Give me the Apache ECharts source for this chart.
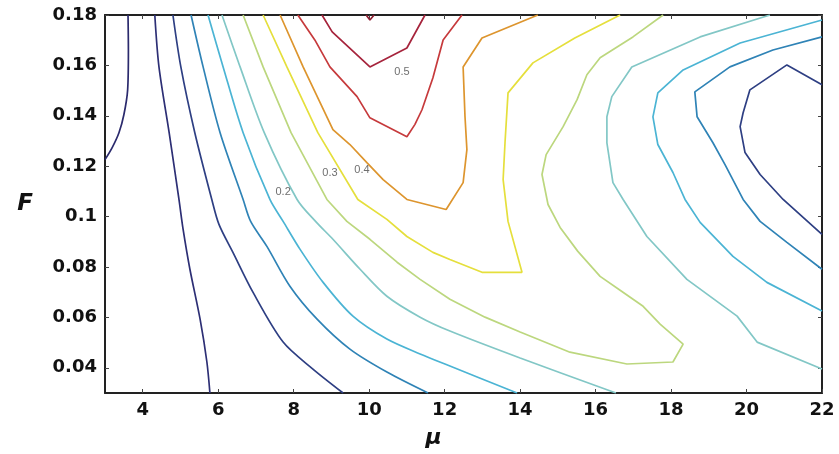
<!DOCTYPE html>
<html>
<head>
<meta charset="utf-8">
<script src="https://cdn.jsdelivr.net/npm/echarts@6/dist/echarts.min.js"></script>
<style>
  html, body { margin: 0; padding: 0; background: #fff; }
  #chart { width: 839px; height: 454px; }
</style>
</head>
<body>
<div id="chart"></div>
<script>
// contour lines, each point is [mu, F]
const c1 = [[3.61,0.18],[3.62,0.1661],[3.60,0.1503],[3.50,0.1404],[3.37,0.1333],[3.19,0.1274],[3.00,0.1226]];
const c2 = [[4.32,0.18],[4.43,0.1594],[4.70,0.1333],[4.96,0.1068],[5.07,0.0949],[5.25,0.0791],[5.52,0.0593],[5.70,0.0423],[5.78,0.03]];
const c3 = [[4.80,0.18],[5.01,0.1594],[5.38,0.1333],[5.83,0.1068],[6.02,0.0969],[6.39,0.0858],[6.92,0.0700],[7.72,0.0502],[8.51,0.0395],[9.31,0.03]];
const c4 = [[5.28,0.18],[5.60,0.1594],[6.05,0.1333],[6.66,0.1068],[6.86,0.0981],[7.29,0.0882],[7.90,0.0724],[8.62,0.0593],[9.49,0.0474],[10.47,0.0383],[11.56,0.03]];
const c5 = [[5.73,0.18],[6.13,0.1594],[6.66,0.1333],[7.37,0.1068],[7.72,0.0981],[8.17,0.0870],[8.78,0.0739],[9.57,0.0605],[10.47,0.0514],[11.35,0.0455],[12.14,0.0407],[13.92,0.03]];
const c6 = [[6.10,0.18],[6.58,0.1594],[7.22,0.1333],[8.09,0.1068],[8.58,0.0981],[9.04,0.0910],[9.76,0.0791],[10.47,0.0684],[11.35,0.0601],[12.14,0.0546],[14.00,0.0439],[16.54,0.03]];
const c7 = [[6.66,0.18],[7.19,0.1594],[7.93,0.1333],[8.88,0.1068],[9.41,0.0981],[10.02,0.0910],[10.74,0.0819],[11.35,0.0751],[12.14,0.0672],[13.07,0.0601],[14.00,0.0542],[15.32,0.0462],[16.83,0.0415],[18.05,0.0423],[18.32,0.0494],[17.71,0.0573],[17.26,0.0644],[16.65,0.0708],[16.12,0.0763],[15.53,0.0862],[15.06,0.0957],[14.74,0.1048],[14.58,0.1167],[14.69,0.1246],[15.14,0.1357],[15.51,0.1464],[15.77,0.1563],[16.12,0.1630],[16.99,0.1713],[17.79,0.18]];
const c8 = [[7.19,0.18],[7.82,0.1594],[8.64,0.1333],[9.70,0.1068],[10.47,0.0989],[11.00,0.0921],[11.69,0.0858],[12.14,0.0830],[12.99,0.0779],[14.05,0.0779],[13.68,0.0981],[13.55,0.1147],[13.60,0.1293],[13.68,0.1491],[14.34,0.1610],[15.45,0.1709],[16.65,0.18]];
const c9 = [[7.64,0.18],[8.25,0.1594],[9.04,0.1345],[9.49,0.1286],[9.94,0.1214],[10.37,0.1147],[11.00,0.1068],[12.04,0.1028],[12.49,0.1135],[12.59,0.1266],[12.54,0.1396],[12.49,0.1594],[12.99,0.1709],[14.47,0.18]];
const c10 = [[8.11,0.18],[8.56,0.1701],[8.96,0.1594],[9.68,0.1476],[10.02,0.1392],[11.00,0.1317],[11.21,0.1365],[11.40,0.1424],[11.69,0.1551],[11.96,0.1701],[12.46,0.18]];
const c11 = [[8.75,0.18],[9.02,0.1733],[10.02,0.1594],[11.00,0.1669],[11.48,0.18]];
const c12 = [[9.92,0.18],[10.02,0.1780],[10.13,0.18]];
// right-hand valley, same levels as c3..c6
const r3 = [[22.00,0.1523],[21.07,0.1602],[20.09,0.1503],[19.91,0.1412],[19.83,0.1357],[19.96,0.1254],[20.36,0.1167],[20.97,0.1068],[22.00,0.0929]];
const r4 = [[22.00,0.1713],[20.70,0.1661],[19.56,0.1594],[18.63,0.1495],[18.69,0.1396],[19.11,0.1293],[19.43,0.1206],[19.91,0.1068],[20.36,0.0981],[21.07,0.0898],[22.00,0.0791]];
const r5 = [[22.00,0.1780],[19.83,0.1689],[18.32,0.1582],[17.65,0.1491],[17.52,0.1396],[17.65,0.1286],[18.05,0.1175],[18.37,0.1068],[18.77,0.0977],[19.64,0.0842],[20.54,0.0739],[22.00,0.0625]];
const r6 = [[20.62,0.18],[18.77,0.1713],[16.96,0.1594],[16.43,0.1476],[16.30,0.1396],[16.30,0.1293],[16.46,0.1135],[16.73,0.1068],[17.36,0.0921],[18.42,0.0751],[19.75,0.0605],[20.28,0.0502],[22.00,0.0395]];

const contourLabels = ['0.2', '0.3', '0.4', '0.5'];
const contourLabelAt = [[7.72,0.1096],[8.96,0.1175],[9.81,0.1187],[10.87,0.1574]];

const xTicks = [4, 6, 8, 10, 12, 14, 16, 18, 20, 22];
const yTicks = [0.04, 0.06, 0.08, 0.1, 0.12, 0.14, 0.16, 0.18];

const lines = [c1, c2, c3, c4, c5, c6, c7, c8, c9, c10, c11, c12, r3, r4, r5, r6];
const lineColors = ['#2b2a6d', '#2d2f75', '#2e3f83', '#2f83b6', '#4bb4d4', '#82c7c6', '#bcd77e',
  '#e5df3c', '#dd952e', '#c63a3c', '#a6243c', '#8e1f33',
  '#2e3f83', '#2f83b6', '#4bb4d4', '#82c7c6'];
const smoothLine = [true, true, true, true, true, true, false, false, false, false, false, false,
  false, false, false, false];

const chart = echarts.init(document.getElementById('chart'));

const frameLine = { show: true, onZero: false, lineStyle: { color: '#222', width: 2 } };
const tickStyle = { lineStyle: { color: '#444', width: 1 } };
const labelFont = { fontFamily: 'DejaVu Sans', fontWeight: 'bold', fontSize: 18, color: '#111' };

const series = lines.map((pts, i) => ({
  type: 'line',
  data: pts,
  showSymbol: false,
  symbol: 'none',
  smooth: smoothLine[i] ? 0.3 : false,
  lineStyle: { color: lineColors[i], width: 1.7 },
  silent: true,
}));

series.push({
  type: 'scatter',
  data: contourLabelAt,
  symbolSize: 1,
  itemStyle: { color: 'rgba(0,0,0,0)' },
  z: 5,
  silent: true,
  label: {
    show: true,
    position: 'inside',
    formatter: (p) => contourLabels[p.dataIndex],
    fontFamily: 'Liberation Sans',
    fontSize: 11,
    color: '#4a4a4a',
  },
});

chart.setOption({
  animation: false,
  backgroundColor: '#fff',
  grid: { left: 105, right: 17, top: 15, bottom: 60 },
  xAxis: [
    {
      type: 'value',
      position: 'bottom',
      min: 3,
      max: 22,
      axisLine: frameLine,
      axisTick: Object.assign({ show: true, inside: true, length: 4, customValues: xTicks }, tickStyle),
      axisLabel: Object.assign({ customValues: xTicks, margin: 8 }, labelFont),
      splitLine: { show: false },
      name: 'μ',
      nameLocation: 'middle',
      nameGap: 34,
      nameTextStyle: {
        fontFamily: 'DejaVu Sans',
        fontStyle: 'italic',
        fontWeight: 'bold',
        fontSize: 22,
        color: '#111',
        padding: [0, 60, 0, 0],
      },
    },
    {
      type: 'value',
      position: 'top',
      min: 3,
      max: 22,
      axisLine: frameLine,
      axisTick: Object.assign({ show: true, inside: true, length: 4, customValues: xTicks }, tickStyle),
      axisLabel: { show: false },
      splitLine: { show: false },
    },
  ],
  yAxis: [
    {
      type: 'value',
      position: 'left',
      min: 0.03,
      max: 0.18,
      axisLine: frameLine,
      axisTick: Object.assign({ show: true, inside: true, length: 4, customValues: yTicks }, tickStyle),
      axisLabel: Object.assign({
        customValues: yTicks,
        margin: 8,
        formatter: (v) => String(+v.toFixed(2)),
      }, labelFont),
      splitLine: { show: false },
      name: 'F',
      nameLocation: 'middle',
      nameRotate: 0,
      nameGap: 72,
      nameTextStyle: {
        fontFamily: 'DejaVu Sans',
        fontStyle: 'italic',
        fontWeight: 'bold',
        fontSize: 23,
        color: '#111',
      },
    },
    {
      type: 'value',
      position: 'right',
      min: 0.03,
      max: 0.18,
      axisLine: frameLine,
      axisTick: Object.assign({ show: true, inside: true, length: 4, customValues: yTicks }, tickStyle),
      axisLabel: { show: false },
      splitLine: { show: false },
    },
  ],
  series: series,
});
</script>
</body>
</html>
